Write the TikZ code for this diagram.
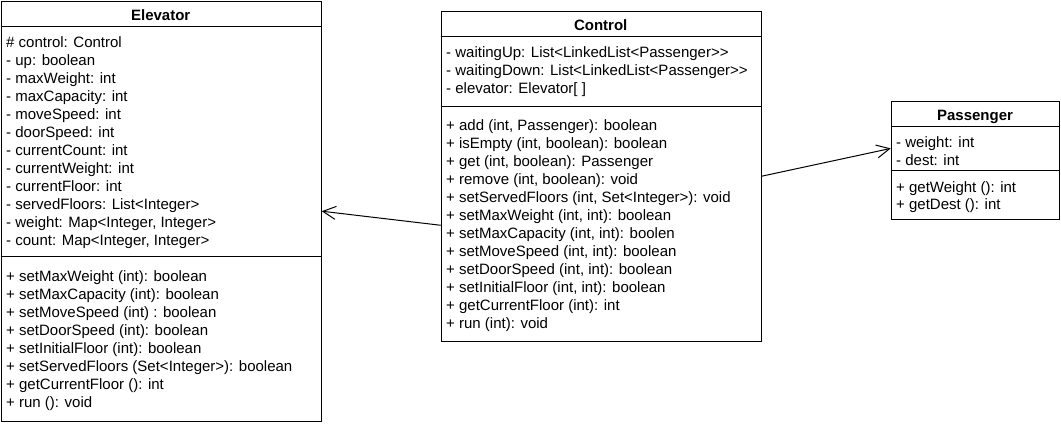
\documentclass[tikz,border=0pt]{standalone}
\usepackage{fontspec}
\setmainfont{Liberation Sans}
\usetikzlibrary{arrows.meta}
\begin{document}
\begin{tikzpicture}[x=1pt,y=-1pt,
  classbox/.style={draw=black, line width=1pt, minimum width=#1, inner sep=0pt, anchor=north west},
  member/.style={anchor=base west, inner sep=0pt, font=\fontsize{15}{18}\selectfont},
  title/.style={anchor=base, inner sep=0pt, font=\fontsize{15}{18}\selectfont\bfseries},
  sep/.style={draw=black, line width=1pt},
  assoc/.style={draw=black, line width=1pt, -{Straight Barb[length=13pt,width=13pt]}}
]
\useasboundingbox (0,0) rectangle (1061,424);
% Elevator
\node[classbox=320pt, minimum height=420pt] (elev) at (0.7,0.7) {};
\node[title] (elevT) at (160.7,20.5) {Elevator};
\draw[sep] (elev.west |- 0,26) -- (elev.east |- 0,26);
\draw[sep] (elev.west |- 0,256) -- (elev.east |- 0,256);
\foreach \t [count=\i from 0] in {{\# control: Control},{- up: boolean},{- maxWeight: int},{- maxCapacity: int},{- moveSpeed: int},{- doorSpeed: int},{- currentCount: int},{- currentWeight: int},{- currentFloor: int},{- servedFloors: List<Integer>},{- weight: Map<Integer, Integer>},{- count: Map<Integer, Integer>}}
  \node[member] (ea\i) at (6,42+18*\i+5.5) {\t};
\foreach \t [count=\i from 0] in {{+ setMaxWeight (int): boolean},{+ setMaxCapacity (int): boolean},{+ setMoveSpeed (int) : boolean},{+ setDoorSpeed (int): boolean},{+ setInitialFloor (int): boolean},{+ setServedFloors (Set<Integer>): boolean},{+ getCurrentFloor (): int},{+ run (): void}}
  \node[member] (em\i) at (6,276+18*\i+5.5) {\t};
% Control
\node[classbox=320pt, minimum height=330pt] (ctrl) at (440.7,10.7) {};
\node[title] (ctrlT) at (600.7,30.5) {Control};
\draw[sep] (ctrl.west |- 0,36.5) -- (ctrl.east |- 0,36.5);
\draw[sep] (ctrl.west |- 0,106.5) -- (ctrl.east |- 0,106.5);
\foreach \t [count=\i from 0] in {{- waitingUp: List<LinkedList<Passenger>{}>},{- waitingDown: List<LinkedList<Passenger>{}>},{- elevator: Elevator[ ]}}
  \node[member] (ca\i) at (446,52+18*\i+5.5) {\t};
\foreach \t [count=\i from 0] in {{+ add (int, Passenger): boolean},{+ isEmpty (int, boolean): boolean},{+ get (int, boolean): Passenger},{+ remove (int, boolean): void},{+ setServedFloors (int, Set<Integer>): void},{+ setMaxWeight (int, int): boolean},{+ setMaxCapacity (int, int): boolen},{+ setMoveSpeed (int, int): boolean},{+ setDoorSpeed (int, int): boolean},{+ setInitialFloor (int, int): boolean},{+ getCurrentFloor (int): int},{+ run (int): void}}
  \node[member] (cm\i) at (446,125+18*\i+5.5) {\t};
% Passenger
\node[classbox=168.6pt, minimum height=118.3pt] (pass) at (890.7,100.7) {};
\node[title] (passT) at (975,120.5) {Passenger};
\draw[sep] (pass.west |- 0,126.5) -- (pass.east |- 0,126.5);
\draw[sep] (pass.west |- 0,170) -- (pass.east |- 0,170);
\node[member] (pa0) at (896,142+5.5) {- weight: int};
\node[member] (pa1) at (896,160+5.5) {- dest: int};
\node[member] (pm0) at (896,187+5.5) {+ getWeight (): int};
\node[member] (pm1) at (896,204+5.5) {+ getDest (): int};
% connectors
\draw[assoc] (ctrl.197) -- (elev.east);
\draw[assoc] (ctrl.east) -- (pass.172);
\end{tikzpicture}
\end{document}
